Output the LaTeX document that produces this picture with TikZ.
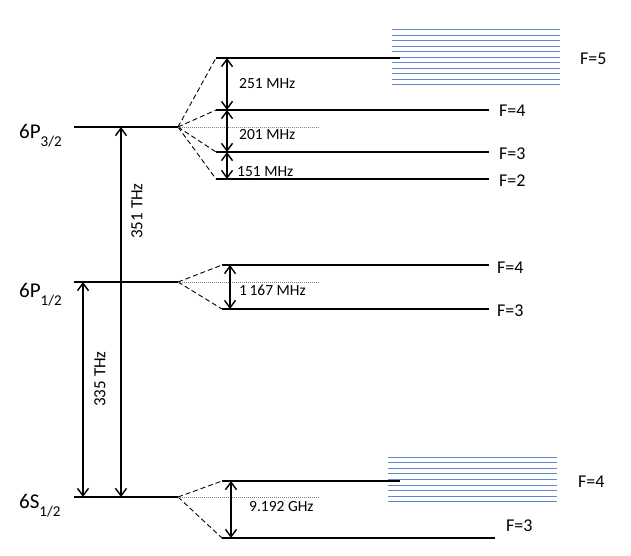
\documentclass[tikz,border=0pt]{standalone}
\usepackage{fontspec}
\setmainfont{Carlito}
\usetikzlibrary{arrows.meta}
\definecolor{hfblue}{RGB}{95,135,208}
\begin{document}
\begin{tikzpicture}[x=1pt,y=-1pt,
  level/.style={line width=2.7pt},
  split/.style={line width=0.9pt, dash pattern=on 5pt off 3pt},
  ref/.style={line width=0.8pt, gray, dash pattern=on 0.8pt off 1.2pt},
  gap/.style={{Straight Barb[length=7.5pt,width=11pt]}-{Straight Barb[length=7.5pt,width=11pt]}, line width=1.4pt},
  band/.style={hfblue, line width=1pt},
  state/.style={anchor=base west, inner sep=0pt, font=\fontsize{21}{21}\selectfont},
  flab/.style={anchor=base west, inner sep=0pt, font=\fontsize{18}{18}\selectfont},
  mlab/.style={anchor=base west, inner sep=0pt, font=\fontsize{15.5}{15.5}\selectfont},
  tlab/.style={rotate=90, inner sep=0pt, font=\fontsize{17}{17}\selectfont}
]
\useasboundingbox (0,0) rectangle (631,556);

% fine-structure levels
\coordinate (P32a) at (74,127);  \coordinate (P32) at (178,127);
\coordinate (P12a) at (74,282);  \coordinate (P12) at (178,282);
\coordinate (S12a) at (74,497);  \coordinate (S12) at (178,497);
\draw[level] (P32a) -- (P32);
\draw[level] (P12a) -- (P12);
\draw[level] (S12a) -- (S12);

\node[state] (lP32) at (19,139) {6P\raisebox{-8pt}{\fontsize{15}{15}\selectfont 3/2}};
\node[state] (lP12) at (19,297) {6P\raisebox{-8pt}{\fontsize{15}{15}\selectfont 1/2}};
\node[state] (lS12) at (19,508) {6S\raisebox{-8pt}{\fontsize{15}{15}\selectfont 1/2}};

% optical transitions
\coordinate (d2lo) at (121,497); \coordinate (d2hi) at (121,127);
\coordinate (d1lo) at (83,497);  \coordinate (d1hi) at (83,282);
\draw[gap] (d2lo) -- (d2hi);
\draw[gap] (d1lo) -- (d1hi);
\node[tlab] (t351) at (137,211) {351 THz};
\node[tlab] (t335) at (100,379) {335 THz};

% 6P3/2 hyperfine levels
\coordinate (a5) at (216,58);  \coordinate (b5) at (400,58);
\coordinate (a4) at (216,110); \coordinate (b4) at (489,110);
\coordinate (a3) at (216,152); \coordinate (b3) at (489,152);
\coordinate (a2) at (216,179); \coordinate (b2) at (489,179);
\foreach \i in {0,...,10} \draw[band] (392,30+5.5*\i) -- (560,30+5.5*\i);
\foreach \f in {5,4,3,2} {
  \draw[level] (a\f) -- (b\f);
  \draw[split] (P32) -- (a\f);
}
\coordinate (r32) at (319,127);
\draw[ref] (P32) -- (r32);
\node[flab] (F5a) at (580,65) {F=5};
\node[flab] (F4a) at (499,117) {F=4};
\node[flab] (F3a) at (499,160) {F=3};
\node[flab] (F2a) at (499,186) {F=2};

\coordinate (g5) at (227,58); \coordinate (g4) at (227,110);
\coordinate (g3) at (227,152); \coordinate (g2) at (227,179);
\draw[gap] (g5) -- (g4);
\draw[gap] (g4) -- (g3);
\draw[gap] (g3) -- (g2);
\node[mlab] (m251) at (239,89) {251 MHz};
\node[mlab] (m201) at (239,140) {201 MHz};
\node[mlab] (m151) at (237,176) {151 MHz};

% 6P1/2 hyperfine levels
\coordinate (c4) at (222,265); \coordinate (e4) at (489,265);
\coordinate (c3) at (222,309); \coordinate (e3) at (489,309);
\foreach \f in {4,3} {
  \draw[level] (c\f) -- (e\f);
  \draw[split] (P12) -- (c\f);
}
\coordinate (r12) at (319,282);
\draw[ref] (P12) -- (r12);
\node[flab] (F4b) at (497,273) {F=4};
\node[flab] (F3b) at (497,316) {F=3};
\coordinate (h4) at (230,265); \coordinate (h3) at (230,309);
\draw[gap] (h4) -- (h3);
\node[mlab] (m1167) at (239,295) {1\,167 MHz};

% 6S1/2 hyperfine levels
\coordinate (s4) at (222,481); \coordinate (t4) at (400,481);
\coordinate (s3) at (222,538); \coordinate (t3) at (495,538);
\foreach \i in {0,...,8} \draw[band] (388,457+5.6*\i) -- (557,457+5.6*\i);
\foreach \f in {4,3} {
  \draw[level] (s\f) -- (t\f);
  \draw[split] (S12) -- (s\f);
}
\coordinate (r0) at (319,497);
\draw[ref] (S12) -- (r0);
\node[flab] (F4c) at (578,487) {F=4};
\node[flab] (F3c) at (506,531) {F=3};
\coordinate (k4) at (231,481); \coordinate (k3) at (231,538);
\draw[gap] (k4) -- (k3);
\node[mlab] (m9192) at (249,511) {9.192 GHz};
\end{tikzpicture}
\end{document}
